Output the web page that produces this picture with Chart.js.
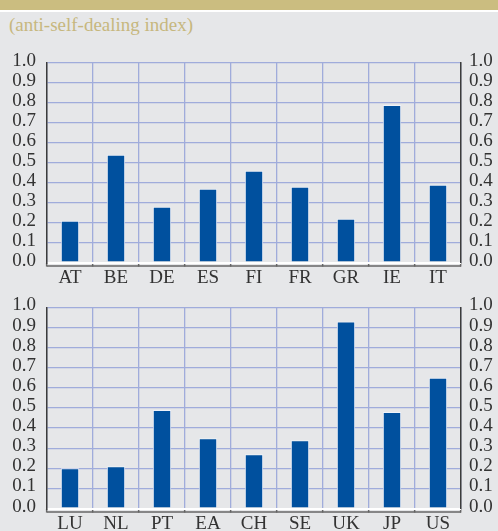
<!DOCTYPE html>
<html>
<head>
<meta charset="utf-8">
<script src="https://cdn.jsdelivr.net/npm/chart.js@4/dist/chart.umd.min.js"></script>
<style>
  html, body { margin:0; padding:0; }
  body { width:498px; height:531px; background:#e6e7e9; position:relative; overflow:hidden; }
  #topbar { position:absolute; left:0; top:0; width:498px; height:10px; background:#cbbd80; border-bottom:2px solid #ffffff; }
  #subtitle { position:absolute; left:9px; top:15px; font-family:"Liberation Serif", serif; font-size:19px; line-height:19px; color:#c6b77e; white-space:nowrap; }
  .panel { position:absolute; left:0; width:498px; }
  canvas { display:block; }
</style>
</head>
<body>
<div id="topbar"></div>
<div id="subtitle">(anti-self-dealing index)</div>
<div class="panel" style="top:40px;height:245px;"><canvas id="c1" width="498" height="245"></canvas></div>
<div class="panel" style="top:285px;height:246px;"><canvas id="c2" width="498" height="246"></canvas></div>
<script>
// ---- data ----
const categoriesTop = ['AT','BE','DE','ES','FI','FR','GR','IE','IT'];
const valuesTop = [0.21, 0.54, 0.28, 0.37, 0.46, 0.38, 0.22, 0.79, 0.39];
const categoriesBottom = ['LU','NL','PT','EA','CH','SE','UK','JP','US'];
const valuesBottom = [0.20, 0.21, 0.49, 0.35, 0.27, 0.34, 0.93, 0.48, 0.65];
const yMin = 0, yMax = 1.0, yStep = 0.1;

// ---- styles ----
const BAR = '#00509e';
const GRID = '#a0acdb';
const AXIS = '#3c3c3c';
const TEXT = '#333333';
const FONT = { family: '"Liberation Serif", serif', size: 19 };

const baselinePlugin = {
  id: 'baseline',
  afterDraw(chart) {
    const a = chart.chartArea, ctx = chart.ctx;
    ctx.save();
    ctx.strokeStyle = '#666666';
    ctx.lineWidth = 1.5;
    ctx.beginPath();
    ctx.moveTo(a.left, a.bottom + 3.5);
    ctx.lineTo(a.right, a.bottom + 3.5);
    ctx.stroke();
    ctx.restore();
  }
};

function makeChart(id, labels, values, padTop) {
  return new Chart(document.getElementById(id), {
    type: 'bar',
    data: {
      labels: labels,
      datasets: [{
        data: values,
        backgroundColor: BAR,
        borderColor: '#eef2fa',
        borderWidth: 1,
        barPercentage: 0.4,
        categoryPercentage: 1.0
      }]
    },
    options: {
      responsive: false,
      animation: false,
      events: [],
      layout: { autoPadding: false, padding: { top: padTop, bottom: 0, left: 0, right: 0 } },
      plugins: { legend: { display: false }, tooltip: { enabled: false }, title: { display: false } },
      scales: {
        x: {
          offset: true,
          grid: { offset: true, color: GRID, lineWidth: 1.3, drawTicks: true, tickLength: 4, tickColor: '#666666', tickWidth: 1.5 },
          border: { display: false },
          ticks: { font: FONT, color: TEXT, padding: 0, maxRotation: 0, autoSkip: false },
          afterFit: s => { s.height = 22; }
        },
        y: {
          position: 'left',
          min: yMin, max: yMax,
          grid: {
            color: c => (c.tick && c.tick.value === 0) ? '#ffffff' : GRID,
            lineWidth: c => (c.tick && c.tick.value === 0) ? 2 : 1.3,
            drawTicks: false
          },
          border: { display: true, color: AXIS, width: 1.5 },
          ticks: { stepSize: yStep, autoSkip: false, font: FONT, color: TEXT, padding: 11, labelOffset: -2, callback: v => Number(v).toFixed(1) },
          afterFit: s => { s.width = 47; }
        },
        y2: {
          position: 'right',
          min: yMin, max: yMax,
          grid: { drawOnChartArea: false, drawTicks: false },
          border: { display: true, color: AXIS, width: 1.5 },
          ticks: { stepSize: yStep, autoSkip: false, font: FONT, color: TEXT, padding: 8, labelOffset: -2, callback: v => Number(v).toFixed(1) },
          afterFit: s => { s.width = 37; }
        }
      }
    },
    plugins: [baselinePlugin]
  });
}

makeChart('c1', categoriesTop, valuesTop, 23);
makeChart('c2', categoriesBottom, valuesBottom, 21);
</script>
</body>
</html>
